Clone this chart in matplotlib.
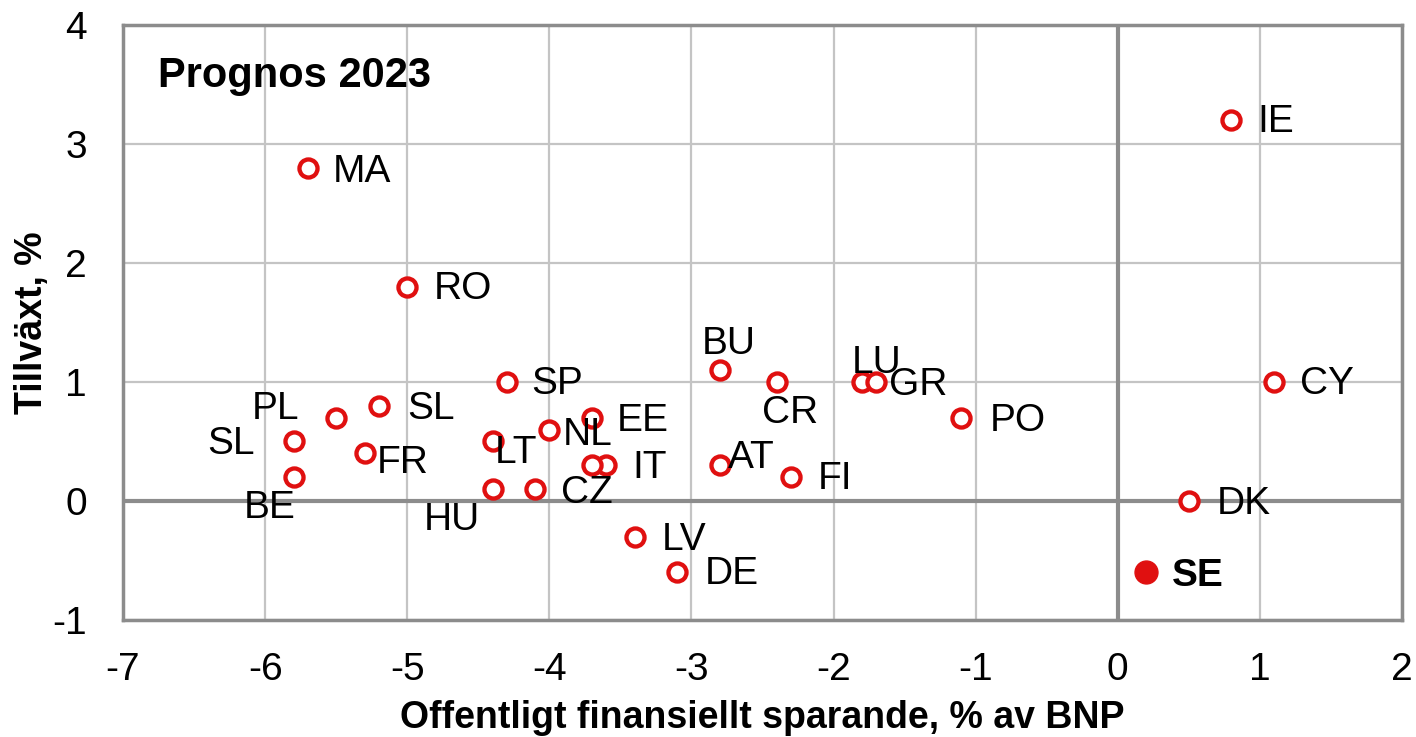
import matplotlib
matplotlib.use("Agg")
import matplotlib.pyplot as plt

plt.rcParams["font.family"] = ["Liberation Sans", "DejaVu Sans"]
plt.rcParams["axes.unicode_minus"] = False

# data
countries = ["IE", "MA", "RO", "SP", "BU", "CR", "LU", "GR", "PO", "CY",
             "PL", "SL", "SL", "BE", "FR", "LT", "NL", "EE", "IT", "",
             "AT", "FI", "HU", "CZ", "LV", "DE", "DK"]
saving = [0.8, -5.7, -5.0, -4.3, -2.8, -2.4, -1.8, -1.7, -1.1, 1.1,
          -5.5, -5.2, -5.8, -5.8, -5.3, -4.4, -4.0, -3.7, -3.6, -3.7,
          -2.8, -2.3, -4.4, -4.1, -3.4, -3.1, 0.5]
growth = [3.2, 2.8, 1.8, 1.0, 1.1, 1.0, 1.0, 1.0, 0.7, 1.0,
          0.7, 0.8, 0.5, 0.2, 0.4, 0.5, 0.6, 0.7, 0.3, 0.3,
          0.3, 0.2, 0.1, 0.1, -0.3, -0.6, 0.0]
se_saving = 0.2
se_growth = -0.6

# label offsets in pixels (dx, dy, ha), one per point
label_pos = [
    (26, -2, "left"), (25, -4, "left"), (26, -2, "left"), (25, -2, "left"),
    (9, 26, "center"), (13, -31, "center"), (15, 19, "center"),
    (13, -3, "left"), (28, -3, "left"), (26, -2, "left"),
    (-37, 9, "right"), (28, -3, "left"), (-39, -3, "right"),
    (-24, -31, "center"), (12, -10, "left"), (2, -12, "left"),
    (13, -5, "left"), (25, -3, "left"), (26, -3, "left"), (0, 0, "left"),
    (8, 7, "left"), (27, -2, "left"), (-41, -31, "center"),
    (26, -4, "left"), (27, -3, "left"), (27, -2, "left"), (28, -3, "left"),
]

red = "#E01010"
gray = "#8C8C8C"

fig = plt.figure(figsize=(14.16, 7.37), dpi=100)
ax = fig.add_axes([0.0869, 0.1588, 0.9032, 0.8073])

ax.set_xlim(-7, 2)
ax.set_ylim(-1, 4)
ax.set_xticks(range(-7, 3))
ax.set_yticks(range(-1, 5))
ax.grid(True, color="#C4C4C4", linewidth=1.6)
ax.set_axisbelow(True)
ax.axhline(0, color=gray, linewidth=3, zorder=1.5)
ax.axvline(0, color=gray, linewidth=3, zorder=1.5)
for s in ax.spines.values():
    s.set_color(gray)
    s.set_linewidth(2.5)
ax.tick_params(length=0, labelsize=28, pad=23)
ax.tick_params(axis="y", pad=26)

ax.plot(saving, growth, "o", markersize=13, markerfacecolor="white",
        markeredgecolor=red, markeredgewidth=3.1, linestyle="none", zorder=3)
ax.plot([se_saving], [se_growth], "o", markersize=16.5, color=red, zorder=3)

for name, x, y, (dx, dy, ha) in zip(countries, saving, growth, label_pos):
    if not name:
        continue
    ax.annotate(name, (x, y), xytext=(dx, dy), textcoords="offset pixels",
                ha=ha, va="center", fontsize=28, zorder=4)

ax.annotate("SE", (se_saving, se_growth), xytext=(26, -4),
            textcoords="offset pixels", ha="left", va="center",
            fontsize=28, fontweight="bold", zorder=4)

ax.text(0.027, 0.915, "Prognos 2023", transform=ax.transAxes, fontsize=30,
        fontweight="bold", ha="left", va="center")

ax.set_xlabel("Offentligt finansiellt sparande, % av BNP", fontsize=27,
              fontweight="bold", va="center")
ax.xaxis.set_label_coords(0.5, -0.164)
ax.set_ylabel("Tillväxt, %", fontsize=27, fontweight="bold", va="center")
ax.yaxis.set_label_coords(-0.071, 0.5)

fig.savefig("out.png", dpi=100)
